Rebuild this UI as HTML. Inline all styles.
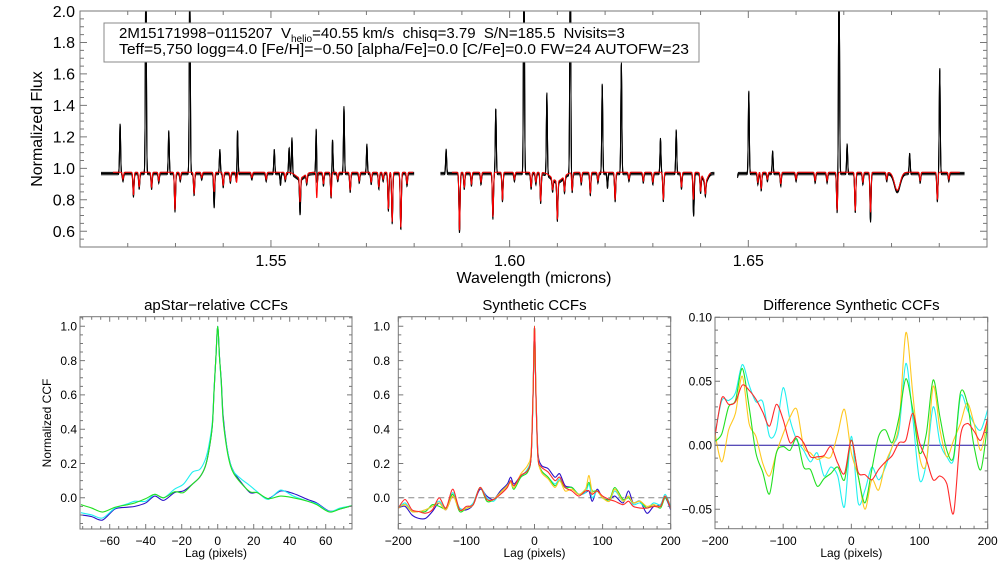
<!DOCTYPE html>
<html><head><meta charset="utf-8">
<style>
html,body{margin:0;padding:0;background:#fff;}
svg{display:block;font-family:"Liberation Sans",sans-serif;}
</style></head>
<body>
<svg id="fig" width="1008" height="576" viewBox="0 0 1008 576" xmlns="http://www.w3.org/2000/svg">
<rect x="0" y="0" width="1008" height="576" fill="#fff"/>
</svg>
<script>
// ---------- Spectrum data ----------
const segBlack = [[1.5144,1.5800],[1.5855,1.6429],[1.6477,1.6953]];
const segRed = [[1.5169,1.5798],[1.5879,1.6421],[1.6503,1.6943]];
const emisWl = [1.5184,1.5238,1.5286,1.5330,1.5393,1.5430,1.5507,1.5538,1.5544,1.5595,1.5629,1.5653,1.5701,1.5867,1.5971,1.6030,1.6078,1.6127,1.6194,1.6234,1.6316,1.6349,1.6477,1.6501,1.6551,1.6690,1.6707,1.6838,1.6901];
const emisPeak = [1.285,2.5,1.238,2.5,1.12,1.406,1.12,1.13,1.198,1.419,1.186,1.573,1.152,1.12,1.384,2.5,1.67,2.5,1.539,1.677,1.19,1.454,1.12,1.49,1.11,2.5,1.154,1.095,1.64];
const skyAbsWl = [1.5238,1.5330,1.5381,1.5430,1.5561,1.5595,1.5653,1.6078,1.6349,1.6386,1.6477,1.6690,1.6756,1.5520,1.6205];
const skyAbsMin = [0.83,0.80,0.88,0.82,0.90,0.90,0.79,0.79,0.76,0.85,0.80,0.94,0.92,0.90,0.88];
const lineWl = [1.5212,1.5224,1.5250,1.5299,1.5339,1.5381,1.5400,1.5428,1.5561,1.5596,1.5626,1.5666,1.5726,1.5746,1.5754,1.5772,1.5895,1.5965,1.5985,1.6045,1.6065,1.6100,1.6131,1.6169,1.6221,1.6322,1.6385,1.6410,1.6527,1.6568,1.6686,1.6724,1.6756,1.6896];
const lineMin = [0.83,0.88,0.88,0.735,0.84,0.85,0.89,0.91,0.82,0.81,0.82,0.86,0.88,0.74,0.66,0.62,0.60,0.69,0.80,0.88,0.79,0.73,0.86,0.84,0.80,0.80,0.80,0.89,0.87,0.90,0.73,0.73,0.72,0.80];
const weakWl = [1.5190,1.5265,1.5310,1.5355,1.5415,1.5460,1.5490,1.5530,1.5575,1.5610,1.5640,1.5685,1.5710,1.5735,1.5785,1.5905,1.5920,1.5940,1.6010,1.6055,1.6090,1.6115,1.6150,1.6185,1.6250,1.6280,1.6300,1.6360,1.6400,1.6520,1.6540,1.6600,1.6640,1.6665,1.6740,1.6790,1.6860,1.6920];
const weakMin = [0.93,0.92,0.93,0.94,0.92,0.94,0.93,0.93,0.92,0.90,0.93,0.92,0.91,0.93,0.90,0.88,0.90,0.91,0.93,0.91,0.90,0.88,0.91,0.92,0.93,0.92,0.91,0.88,0.86,0.91,0.93,0.93,0.92,0.92,0.91,0.93,0.92,0.93];
const broadWl = [1.5561,1.6100,1.6812,1.6410];
const broadMin = [0.94,0.92,0.86,0.92];
const broadWidth = [0.0009,0.0012,0.0006,0.0005];
const contLevel = 0.975;

// ---------- CCF data ----------
const lag1 = [-76,-70,-64,-57,-50,-46,-40,-35,-30,-24,-19,-14,-10,-7,-5,-3,-2,-1,0,1,2,3,5,7,9,13,18,22,28,35,42,50,55,62,68,75];
const ccf1Blue = [-.10,-.11,-.13,-.065,-.055,-.05,-.03,.01,-.015,.03,.04,.08,.12,.18,.27,.42,.63,.82,1.0,.82,.68,.48,.30,.20,.15,.09,.03,.03,-.005,.04,.025,-.01,-.03,-.078,-.065,-.045];
const ccf1Cyan = [-.087,-.10,-.118,-.06,-.035,-.02,-.02,.02,0,.05,.08,.15,.165,.22,.30,.44,.64,.82,1.0,.82,.66,.46,.30,.20,.15,.11,.07,.035,-.01,.045,.01,-.02,-.035,-.08,-.06,-.045];
const ccf1Green = [-.04,-.06,-.083,-.055,-.04,-.03,-.005,.02,0,.035,.03,.08,.12,.18,.27,.42,.63,.82,1.0,.82,.67,.46,.29,.19,.14,.085,.035,.03,-.005,.01,0,-.02,-.04,-.083,-.065,-.045];

const lag2 = [-200,-190,-180,-170,-160,-150,-140,-130,-120,-110,-100,-90,-80,-70,-60,-50,-40,-35,-30,-20,-10,-5,-2,0,2,5,10,20,30,37,45,55,65,75,80,85,92,100,110,118,130,138,145,155,165,175,185,192,200];
const ccf2Blue = [-.06,-.05,-.10,-.12,-.12,-.08,-.03,-.07,.01,-.06,-.07,-.04,.05,.01,-.01,.04,.08,.12,.08,.13,.16,.24,.63,1.0,.63,.27,.19,.17,.12,.14,.07,.06,.02,.03,.04,-.02,.05,.00,-.01,.01,-.03,.04,-.03,-.02,-.09,-.05,-.04,.00,-.07];
const ccf2Cyan = [-.06,-.03,-.08,-.08,-.07,-.05,-.02,-.06,.03,-.06,-.06,-.03,.06,.00,-.02,.03,.07,.10,.07,.12,.17,.25,.62,1.0,.62,.25,.16,.12,.08,.11,.06,.06,.02,.03,.08,.00,.04,.00,-.02,.04,-.02,.01,-.04,-.03,-.06,-.03,-.04,.02,-.05];
const ccf2Green = [-.06,-.04,-.08,-.08,-.08,-.04,-.05,-.06,.02,-.08,-.06,-.04,.06,-.02,-.01,.03,.07,.09,.05,.12,.15,.24,.62,1.0,.62,.24,.16,.12,.07,.10,.06,.06,.02,.05,.09,.04,.04,.00,-.01,.06,-.01,.00,-.03,-.02,-.06,-.04,-.06,.00,-.06];
const ccf2Yellow = [-.06,-.04,-.08,-.08,-.07,-.05,-.03,-.07,.01,-.07,-.06,-.04,.06,-.01,-.01,.03,.07,.09,.06,.14,.19,.27,.64,1.0,.64,.25,.15,.11,.06,.10,.04,.05,.02,.05,.13,.03,.04,.00,-.02,.05,-.02,.01,-.03,-.02,-.05,-.04,-.05,.01,-.06];
const ccf2Red = [-.06,-.01,-.07,-.08,-.09,-.07,.00,-.06,.05,-.07,-.05,-.04,.06,-.01,-.01,.02,.06,.10,.07,.13,.16,.24,.62,1.0,.62,.24,.18,.15,.10,.12,.06,.04,.01,.04,.04,.02,.04,.01,-.01,-.02,-.04,-.02,-.05,-.06,-.06,-.05,-.05,.01,-.06];

const lag3 = [-200,-190,-180,-170,-160,-150,-140,-130,-120,-110,-100,-90,-80,-70,-60,-50,-40,-30,-20,-10,0,10,20,30,40,50,60,70,80,90,100,110,120,130,140,150,160,170,180,190,200];
const diffCyan = [.009,.035,.035,.041,.063,.047,.034,.034,.007,.012,.045,.020,.004,-.004,-.013,-.006,-.024,-.017,-.024,-.048,.007,-.045,-.035,-.017,-.027,-.017,-.001,.012,.064,.022,-.027,-.014,.030,.002,-.009,-.011,.038,.028,.017,.012,.028];
const diffYellow = [.009,-.013,.012,.025,.054,.017,.007,-.014,-.024,-.006,.009,.022,.028,-.001,-.006,-.011,-.009,-.009,.009,.028,-.006,-.024,-.050,-.027,-.035,-.014,-.001,.017,.088,.041,-.009,-.014,.046,.012,-.009,.004,.017,.033,.017,-.004,.022];
const diffGreen = [.003,.009,.030,.035,.060,.030,-.006,-.021,-.038,-.006,-.001,-.004,.005,-.017,-.019,-.032,-.026,-.022,-.017,-.027,.004,-.024,-.045,-.019,.007,.012,.002,.022,.052,.028,-.006,.009,.051,.022,-.004,-.009,.041,.033,-.001,-.019,.017];
const diffRed = [.007,.037,.032,.034,.047,.043,.036,.026,.015,.032,.020,.002,.007,.002,-.009,-.009,-.008,-.001,-.014,-.022,.004,-.021,-.023,-.027,-.019,-.013,-.008,.002,.004,.025,.002,-.011,-.027,-.024,-.030,-.053,.007,.017,.011,.004,.021];

// ---------- helpers ----------
const NS = "http://www.w3.org/2000/svg";
const svgRoot = document.getElementById('fig');
function mk(tag, attrs, parent){
  const e = document.createElementNS(NS, tag);
  for (const k in attrs) e.setAttribute(k, attrs[k]);
  (parent||svgRoot).appendChild(e);
  return e;
}
function scale(d0,d1,r0,r1){ return v => r0 + (v-d0)/(d1-d0)*(r1-r0); }
function smoothPath(pts){
  let d = 'M'+pts[0][0].toFixed(2)+','+pts[0][1].toFixed(2);
  for (let i=0;i<pts.length-1;i++){
    const p0=pts[Math.max(0,i-1)], p1=pts[i], p2=pts[i+1], p3=pts[Math.min(pts.length-1,i+2)];
    const t=0.15;
    const c1=[p1[0]+(p2[0]-p0[0])*t, p1[1]+(p2[1]-p0[1])*t];
    const c2=[p2[0]-(p3[0]-p1[0])*t, p2[1]-(p3[1]-p1[1])*t];
    d+=' C'+c1[0].toFixed(2)+','+c1[1].toFixed(2)+' '+c2[0].toFixed(2)+','+c2[1].toFixed(2)+' '+p2[0].toFixed(2)+','+p2[1].toFixed(2);
  }
  return d;
}
function axes(g, box, xs, ys, xt, yt, opt){
  const {x0,x1,y0,y1} = box;
  const ax = mk('g', {}, g);
  
  
  mk('rect',{x:x0,y:y0,width:x1-x0,height:y1-y0,fill:'none',stroke:'#777','stroke-width':1},ax);
  const M=opt.maj, m=opt.min;
  let d='';
  const nx = Math.round((xt.end-xt.minStart)/xt.minor);
  for (let i=0;i<=nx;i++){
    const v = xt.minStart + i*xt.minor;
    const x=xs(v); if (x<x0-0.5||x>x1+0.5) continue;
    const isMaj = Math.abs(Math.round(v/xt.major)*xt.major - v) < 1e-7;
    const L = isMaj?M:m;
    d+=`M${x},${y1}v${-L}M${x},${y0}v${L}`;
  }
  const ny = Math.round((yt.end-yt.minStart)/yt.minor);
  for (let i=0;i<=ny;i++){
    const v = yt.minStart + i*yt.minor;
    const y=ys(v); if (y<y0-0.5||y>y1+0.5) continue;
    const isMaj = Math.abs(Math.round(v/yt.major)*yt.major - v) < 1e-7;
    const L = isMaj?M:m;
    d+=`M${x0},${y}h${L}M${x1},${y}h${-L}`;
  }
  mk('path',{d:d,stroke:'#777','stroke-width':1,fill:'none'},ax);
  xt.labels.forEach(v=>{
    const t=mk('text',{x:xs(v),y:opt.xLabY,'text-anchor':'middle','font-size':opt.fs,fill:'#000'},ax);
    t.textContent = xt.fmt(v);
    
    
  });
  yt.labels.forEach(v=>{
    const t=mk('text',{x:opt.yLabX,y:ys(v)+opt.fs*0.36,'text-anchor':'end','font-size':opt.fs,fill:'#000'},ax);
    t.textContent = yt.fmt(v);
    
    
  });
}
function fmtMinus(s){ return s.replace('-','\u2212'); }

// ---------- Top spectrum panel ----------
const topG = mk('g',{});


const TB = {x0:80,x1:987,y0:11,y1:247};
const sx = scale(1.51,1.70,TB.x0,TB.x1);
const sy = scale(0.5,2.0,TB.y1,TB.y0);
const pxW = (1.70-1.51)/(TB.x1-TB.x0);
const sig = 0.55*pxW;
function gauss(l,c,s){ const z=(l-c)/s; return Math.exp(-0.5*z*z); }
function modelFlux(l){
  let f = contLevel;
  for (let i=0;i<lineWl.length;i++) f -= (contLevel-lineMin[i])*gauss(l,lineWl[i],sig);
  for (let i=0;i<weakWl.length;i++) f -= (contLevel-weakMin[i])*gauss(l,weakWl[i],sig);
  for (let i=0;i<broadWl.length;i++) f -= (contLevel-broadMin[i])*gauss(l,broadWl[i],broadWidth[i]);
  return f;
}
function obsFlux(l){
  let f = modelFlux(l) - 0.008;
  for (let i=0;i<emisWl.length;i++) f += (emisPeak[i]-0.97)*gauss(l,emisWl[i],sig*0.9);
  for (let i=0;i<skyAbsWl.length;i++) f -= (0.97-skyAbsMin[i])*gauss(l,skyAbsWl[i],sig*0.9);
  return f;
}
const clip = mk('clipPath',{id:'topclip'});
mk('rect',{x:TB.x0,y:TB.y0,width:TB.x1-TB.x0,height:TB.y1-TB.y0},clip);
function specPath(segs, fn){
  let d='';
  segs.forEach(s=>{
    const n = Math.round((s[1]-s[0])/pxW*4);
    for (let i=0;i<=n;i++){
      const l = s[0]+(s[1]-s[0])*i/n;
      const y = Math.max(TB.y0-5, sy(fn(l)));
      d += (i===0?'M':'L')+sx(l).toFixed(2)+','+y.toFixed(2);
    }
  });
  return d;
}
const obsD = specPath(segBlack,obsFlux);
const obsBand = mk('g',{'clip-path':'url(#topclip)'},topG);


mk('path',{d:obsD,stroke:'#000','stroke-width':1,fill:'none',transform:'translate(0,-1.2)'},obsBand);
mk('path',{d:obsD,stroke:'#000','stroke-width':1,fill:'none',transform:'translate(0,1.2)'},obsBand);
mk('path',{d:obsD,stroke:'#000','stroke-width':1,fill:'none'},obsBand);
const modP = mk('path',{d:specPath(segRed,modelFlux),stroke:'#ff0000','stroke-width':1,fill:'none','clip-path':'url(#topclip)'},topG);


axes(topG, TB, sx, sy,
  {minStart:1.51,end:1.70,minor:0.01,major:0.05,labels:[1.55,1.60,1.65],fmt:v=>v.toFixed(2)},
  {minStart:0.5,end:2.0,minor:0.05,major:0.2,labels:[0.6,0.8,1.0,1.2,1.4,1.6,1.8,2.0],fmt:v=>v.toFixed(1)},
  {name:'spectrum',maj:7,min:4,fs:16,xLabY:266,yLabX:75});
const ylab = mk('text',{x:0,y:0,'font-size':16,'text-anchor':'middle',transform:'translate(42,129) rotate(-90)'},topG);
ylab.textContent='Normalized Flux';


const xlab = mk('text',{x:534,y:283,'font-size':16,'text-anchor':'middle'},topG);
xlab.textContent='Wavelength (microns)';


// info box
const box = mk('g',{},topG);


mk('rect',{x:104,y:23,width:595,height:39,fill:'#fff',stroke:'#888','stroke-width':1},box);
const t1 = mk('text',{x:119,y:38,'font-size':15},box);


const ts1 = mk('tspan',{},t1); ts1.textContent='2M15171998\u22120115207\u00a0\u00a0V';
const ts2 = mk('tspan',{'font-size':10,dy:4},t1); ts2.textContent='helio';
const ts3 = mk('tspan',{dy:-4},t1); ts3.textContent='=40.55 km/s\u00a0\u00a0chisq=3.79\u00a0\u00a0S/N=185.5\u00a0\u00a0Nvisits=3';
const t2 = mk('text',{x:119,y:54,'font-size':15,textLength:570,lengthAdjust:'spacingAndGlyphs'},box);
t2.textContent = 'Teff=5,750 logg=4.0 [Fe/H]=\u22120.50 [alpha/Fe]=0.0 [C/Fe]=0.0 FW=24 AUTOFW=23';



// ---------- CCF panels ----------
function ccfPanel(name, B, xd, yd, xt, yt, title, series, opt){
  const g = mk('g',{});
  
  
  const xs = scale(xd[0],xd[1],B.x0,B.x1);
  const ys = scale(yd[0],yd[1],B.y1,B.y0);
  const cid = name+'-clip';
  const c = mk('clipPath',{id:cid});
  mk('rect',{x:B.x0,y:B.y0,width:B.x1-B.x0,height:B.y1-B.y0},c);
  if (opt.zeroLine){
    const z = mk('line',{x1:B.x0,x2:B.x1,y1:ys(0),y2:ys(0),stroke:opt.zeroLine.color,'stroke-width':1,'stroke-dasharray':opt.zeroLine.dash||'none'},g);
    
    
  }
  series.forEach(s=>{
    const pts = s.lag.map((l,i)=>[xs(l),ys(s.val[i])]);
    const p = mk('path',{d:smoothPath(pts),stroke:s.color,'stroke-width':1.1,fill:'none','clip-path':`url(#${cid})`},g);
    
    
  });
  axes(g, B, xs, ys, xt, yt, {name:name,maj:5,min:3,fs:12,xLabY:545,yLabX:opt.yLabX});
  const tt = mk('text',{x:(B.x0+B.x1)/2,y:310,'font-size':15,'text-anchor':'middle'},g);
  tt.textContent = title;
  
  
  const xl = mk('text',{x:(B.x0+B.x1)/2,y:557,'font-size':12,'text-anchor':'middle'},g);
  xl.textContent = 'Lag (pixels)';
  
  
  return g;
}
const yd12 = [-0.182,1.056];
const ytick12 = {minStart:-0.15,end:1.05,minor:0.05,major:0.2,labels:[0,0.2,0.4,0.6,0.8,1.0],fmt:v=>v.toFixed(1)};
ccfPanel('apstar-ccf-panel',{x0:80,x1:352,y0:316.7,y1:529},[-76.5,74.6],yd12,
  {minStart:-75,end:75,minor:5,major:20,labels:[-60,-40,-20,0,20,40,60],fmt:v=>fmtMinus(String(v))},
  ytick12,'apStar\u2212relative CCFs',
  [{name:'ccf-visit-blue',lag:lag1,val:ccf1Blue,color:'#2a10c8'},
   {name:'ccf-visit-cyan',lag:lag1,val:ccf1Cyan,color:'#20f0f0'},
   {name:'ccf-visit-green',lag:lag1,val:ccf1Green,color:'#22e022'}],{yLabX:77});
ccfPanel('synthetic-ccf-panel',{x0:398.3,x1:670.7,y0:316.7,y1:529},[-200,200],yd12,
  {minStart:-200,end:200,minor:20,major:100,labels:[-200,-100,0,100,200],fmt:v=>fmtMinus(String(v))},
  ytick12,'Synthetic CCFs',
  [{name:'synth-ccf-blue',lag:lag2,val:ccf2Blue,color:'#2a10c8'},
   {name:'synth-ccf-cyan',lag:lag2,val:ccf2Cyan,color:'#20f0f0'},
   {name:'synth-ccf-green',lag:lag2,val:ccf2Green,color:'#22e022'},
   {name:'synth-ccf-yellow',lag:lag2,val:ccf2Yellow,color:'#ffc820'},
   {name:'synth-ccf-red',lag:lag2,val:ccf2Red,color:'#ff2a2a'}],
  {yLabX:390,zeroLine:{color:'#888',dash:'6,4'}});
ccfPanel('difference-ccf-panel',{x0:715,x1:987.7,y0:317.3,y1:528.7},[-200,200],[-0.0652,0.1],
  {minStart:-200,end:200,minor:20,major:100,labels:[-200,-100,0,100,200],fmt:v=>fmtMinus(String(v))},
  {minStart:-0.06,end:0.1,minor:0.01,major:0.05,labels:[-0.05,0,0.05,0.10],fmt:v=>fmtMinus(v.toFixed(2))},
  'Difference Synthetic CCFs',
  [{name:'diff-ccf-cyan',lag:lag3,val:diffCyan,color:'#20f0f0'},
   {name:'diff-ccf-yellow',lag:lag3,val:diffYellow,color:'#ffc820'},
   {name:'diff-ccf-green',lag:lag3,val:diffGreen,color:'#22e022'},
   {name:'diff-ccf-red',lag:lag3,val:diffRed,color:'#ff2a2a'}],
  {yLabX:712,zeroLine:{color:'#2010a0'}});
const ccfY = mk('text',{x:0,y:0,'font-size':12,'text-anchor':'middle',transform:'translate(51,423) rotate(-90)'});
ccfY.textContent='Normalized CCF';


</script>
</body></html>
